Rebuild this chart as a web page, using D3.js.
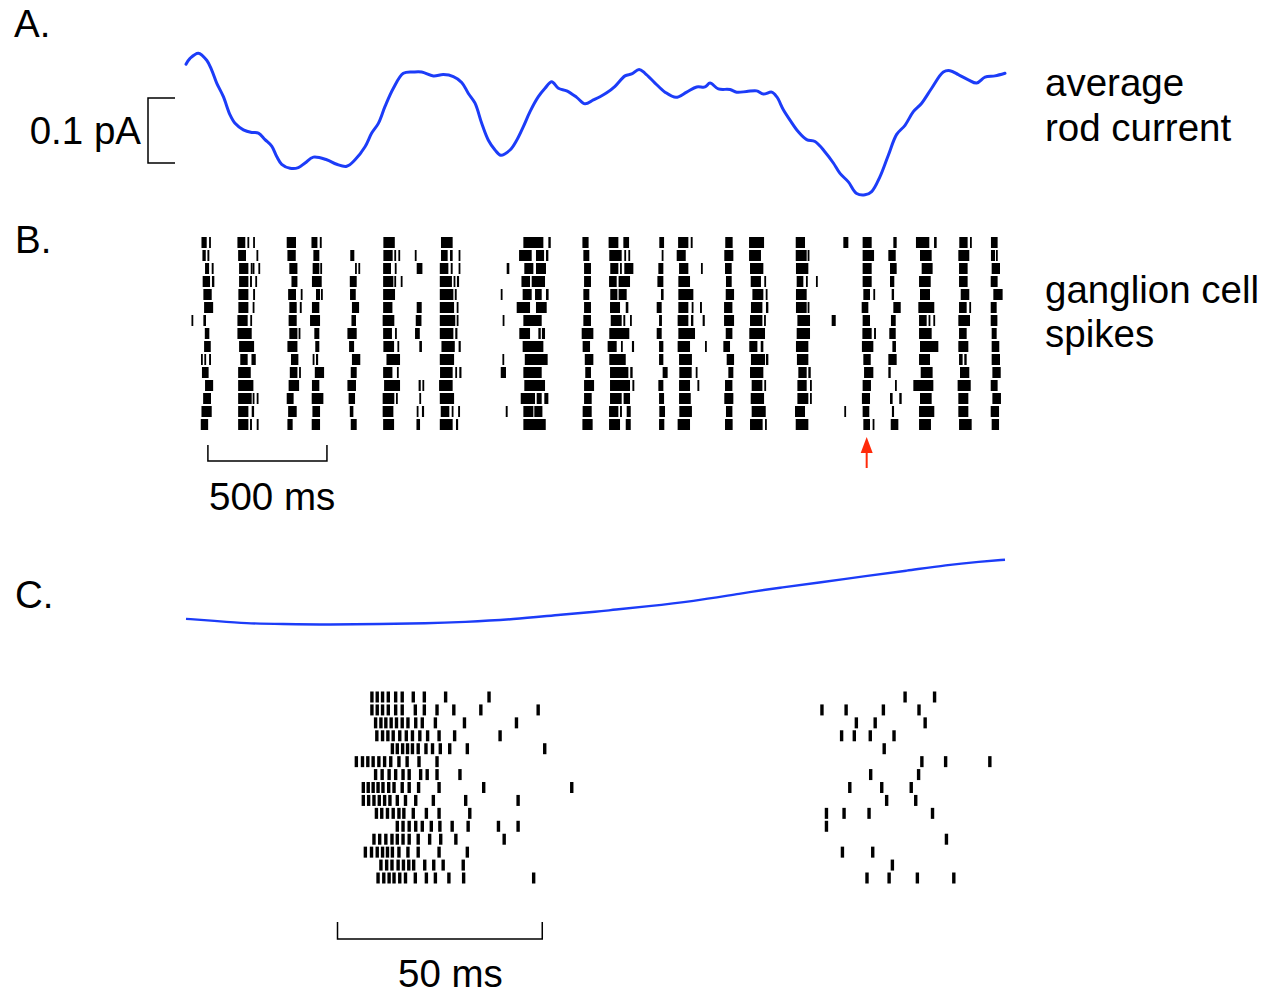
<!DOCTYPE html>
<html lang="en">
<head>
<meta charset="utf-8">
<title>Rod current and ganglion cell spikes</title>
<script src="https://d3js.org/d3.v7.min.js"></script>
<style>
  body { margin: 0; background: #fff; }
  svg text { font-family: "Liberation Sans", Arial, Helvetica, sans-serif; font-size: 38.5px; fill: #000; }
</style>
</head>
<body>
<div id="fig"></div>
<script>
// ---- panel A: average rod current (time in ms, current in pA) ----
const traceTimeA = [0, 17, 52, 87, 108, 129, 157, 185, 206, 241, 276, 304, 332, 360, 381, 402, 437, 472, 500, 535,
  591, 633, 675, 710, 752, 780, 808, 836, 871, 913, 955, 990, 1039, 1081, 1123, 1158, 1186, 1214, 1242, 1270,
  1298, 1322, 1361, 1389, 1417, 1445, 1480, 1508, 1536, 1564, 1599, 1641, 1676, 1711, 1739, 1767, 1802, 1844, 1872, 1903,
  1928, 1970, 2012, 2058, 2103, 2145, 2180, 2201, 2236, 2285, 2313, 2355, 2397, 2425, 2460, 2481, 2509, 2537, 2572, 2607,
  2642, 2684, 2719, 2747, 2782, 2817, 2852, 2880, 2915, 2950, 2985, 3020, 3055, 3090, 3132, 3181, 3209, 3244, 3286, 3321,
  3356, 3398, 3440];
const traceCurrentA = [0.152, 0.161, 0.169, 0.158, 0.143, 0.123, 0.102, 0.074, 0.061, 0.051, 0.047, 0.046, 0.036, 0.026, 0.010, -0.002, -0.008, -0.007, 0.000, 0.009,
  0.005, -0.002, -0.005, 0.005, 0.025, 0.046, 0.061, 0.087, 0.115, 0.138, 0.140, 0.140, 0.134, 0.136, 0.133, 0.124, 0.107, 0.092, 0.061, 0.035,
  0.020, 0.012, 0.020, 0.035, 0.056, 0.079, 0.102, 0.115, 0.125, 0.115, 0.111, 0.101, 0.091, 0.097, 0.102, 0.108, 0.118, 0.134, 0.137, 0.144,
  0.138, 0.123, 0.109, 0.101, 0.109, 0.117, 0.117, 0.123, 0.114, 0.113, 0.109, 0.110, 0.111, 0.106, 0.109, 0.102, 0.082, 0.066, 0.048, 0.036,
  0.033, 0.017, 0.000, -0.016, -0.029, -0.047, -0.049, -0.044, -0.021, 0.012, 0.044, 0.058, 0.079, 0.092, 0.115, 0.140, 0.142, 0.136, 0.128, 0.123,
  0.132, 0.134, 0.138];

// ---- panel B: spike raster, 15 trials, each entry [start ms, end ms] of a spike or spike cluster ----
const rasterB = [
  [[65,87],[97,102],[216,249],[258,262],[282,289],[423,462],[527,552],[562,570],[829,877],[1071,1120],[1417,1501],[1522,1532],[1665,1691],[1775,1816],[1837,1861],[1988,2008],[2067,2110],[2120,2128],[2265,2296],[2365,2428],[2561,2600],[2761,2782],[2842,2880],[2971,2985],[3066,3122],[3142,3153],[3248,3283],[3293,3300],[3381,3409]],
  [[69,83],[90,98],[219,252],[296,303],[426,461],[535,560],[690,707],[829,868],[875,882],[892,899],[961,968],[1071,1099],[1109,1120],[1145,1152],[1399,1452],[1470,1504],[1512,1522],[1669,1694],[1778,1830],[1841,1848],[1858,1865],[1998,2005],[2061,2099],[2261,2299],[2365,2415],[2561,2607],[2611,2615],[2842,2890],[2950,2981],[3083,3132],[3244,3290],[3381,3398],[3402,3409]],
  [[80,97],[108,116],[223,262],[272,277],[280,286],[304,311],[434,468],[532,560],[564,570],[710,717],[724,731],[828,861],[877,882],[969,993],[1066,1102],[1112,1120],[1145,1152],[1347,1358],[1421,1459],[1470,1512],[1672,1701],[1782,1816],[1823,1830],[1841,1879],[1984,2005],[2071,2110],[2163,2170],[2264,2292],[2369,2425],[2562,2614],[2842,2880],[2957,2985],[3090,3136],[3247,3283],[3384,3419]],
  [[70,101],[109,119],[223,262],[269,277],[291,297],[443,468],[529,570],[688,717],[828,871],[875,882],[902,909],[1066,1117],[1124,1131],[1138,1147],[1409,1445],[1452,1508],[1672,1701],[1777,1809],[1817,1865],[1980,2005],[2068,2117],[2268,2292],[2372,2415],[2429,2435],[2565,2593],[2604,2611],[2646,2653],[2842,2880],[2957,2975],[3079,3128],[3247,3283],[3380,3409]],
  [[73,108],[220,262],[282,290],[429,462],[482,489],[546,563],[567,571],[689,713],[828,878],[1066,1123],[1129,1137],[1322,1329],[1414,1452],[1466,1494],[1512,1523],[1669,1694],[1782,1812],[1817,1851],[1995,2006],[2068,2131],[2267,2302],[2379,2425],[2435,2442],[2562,2607],[2845,2873],[2887,2894],[2964,2974],[3083,3125],[3254,3290],[3391,3430]],
  [[76,114],[220,262],[280,286],[434,465],[478,486],[529,560],[697,727],[828,867],[969,990],[1066,1126],[1137,1144],[1389,1445],[1470,1515],[1672,1701],[1781,1823],[1847,1858],[1977,1998],[2068,2110],[2124,2131],[2159,2167],[2260,2295],[2373,2421],[2436,2446],[2562,2607],[2611,2615],[2838,2866],[2971,3002],[3076,3143],[3247,3279],[3290,3297],[3380,3405]],
  [[23,28],[73,84],[216,259],[270,276],[431,465],[521,563],[695,714],[826,875],[965,989],[1066,1131],[1137,1144],[1330,1336],[1417,1494],[1669,1701],[1784,1830],[1837,1845],[1865,1872],[1987,1999],[2065,2110],[2121,2131],[2170,2179],[2260,2302],[2369,2421],[2428,2435],[2568,2621],[2712,2729],[2842,2873],[2961,2981],[3079,3111],[3119,3125],[3139,3146],[3244,3293],[3380,3408]],
  [[79,98],[216,276],[434,468],[473,479],[539,560],[678,717],[828,865],[878,885],[962,982],[1066,1123],[1131,1140],[1400,1445],[1480,1490],[1495,1508],[1662,1711],[1778,1862],[1977,1998],[2068,2138],[2267,2295],[2366,2432],[2565,2621],[2841,2880],[2890,2898],[2954,2981],[3079,3132],[3247,3279],[3384,3405]],
  [[76,104],[223,286],[426,468],[543,560],[685,706],[829,874],[888,895],[980,991],[1073,1129],[1145,1154],[1414,1501],[1666,1697],[1771,1809],[1827,1834],[1873,1882],[1987,2005],[2065,2117],[2180,2187],[2257,2285],[2366,2400],[2414,2425],[2562,2614],[2839,2887],[2967,2982],[3083,3160],[3244,3286],[3384,3416]],
  [[63,70],[77,84],[97,105],[228,259],[275,293],[441,472],[532,539],[546,555],[697,732],[842,899],[1066,1126],[1329,1336],[1423,1519],[1675,1711],[1778,1847],[1987,2005],[2071,2125],[2271,2302],[2373,2432],[2436,2446],[2566,2614],[2845,2876],[2950,2985],[3079,3125],[3247,3262],[3269,3279],[3384,3419]],
  [[67,95],[219,272],[436,468],[475,482],[541,580],[692,717],[828,867],[886,893],[1067,1120],[1131,1137],[1148,1157],[1322,1344],[1417,1494],[1677,1701],[1781,1858],[1866,1876],[2002,2023],[2072,2124],[2141,2148],[2278,2299],[2369,2425],[2572,2607],[2614,2624],[2848,2887],[2950,2960],[3086,3136],[3251,3290],[3387,3422]],
  [[80,114],[219,283],[431,475],[529,560],[678,714],[832,899],[977,986],[993,1000],[1063,1120],[1421,1508],[1672,1714],[1781,1865],[1875,1883],[1984,2005],[2071,2117],[2148,2156],[2264,2295],[2376,2421],[2429,2436],[2568,2607],[2621,2628],[2842,2877],[2978,2985],[3055,3139],[3241,3296],[3380,3409]],
  [[72,105],[219,276],[280,286],[297,304],[423,452],[528,577],[683,710],[826,875],[882,889],[980,987],[1066,1126],[1406,1466],[1473,1494],[1505,1522],[1672,1704],[1781,1830],[1838,1865],[1987,2008],[2071,2120],[2261,2299],[2372,2428],[2568,2614],[2621,2628],[2839,2873],[2957,2968],[2996,3006],[3083,3132],[3244,3286],[3387,3423]],
  [[65,108],[219,262],[276,286],[429,465],[531,563],[688,703],[826,871],[969,976],[991,1000],[1070,1106],[1116,1123],[1143,1151],[1343,1351],[1417,1459],[1463,1497],[1666,1704],[1777,1816],[1823,1831],[1851,1868],[1988,2012],[2072,2125],[2268,2295],[2376,2435],[2558,2600],[2765,2772],[2842,2870],[2965,2974],[3079,3143],[3244,3286],[3380,3415]],
  [[62,93],[219,262],[269,277],[297,305],[426,448],[528,563],[692,717],[828,874],[968,983],[1066,1120],[1134,1143],[1417,1511],[1665,1708],[1777,1823],[1847,1868],[1987,2009],[2065,2117],[2264,2296],[2369,2422],[2432,2439],[2561,2614],[2845,2873],[2884,2890],[2960,2992],[3079,3129],[3247,3300],[3384,3415]]
];
const arrowTimeB = 2859;          // red arrow marks the event expanded in C
const scaleBarB = [92, 500];      // start, length (ms)

// ---- panel C: expanded 200 ms window ----
const traceTimeC = [0, 6.7, 14.8, 23.0, 35.2, 47.4, 58.8, 67.7, 79.9, 92.1, 100.7, 104.3, 112.5, 123.9, 135.3, 145.1, 154.8, 166.2, 176.0, 185.8, 193.9, 200];
const traceCurrentC = [-0.041, -0.044, -0.048, -0.049, -0.050, -0.049, -0.048, -0.046, -0.042, -0.034, -0.030, -0.027, -0.022, -0.014, -0.002, 0.007, 0.015, 0.025, 0.033, 0.042, 0.047, 0.050];
const rasterC = [
  [45.4, 46.7, 48.0, 49.4, 51.2, 52.8, 55.5, 58.2, 63.4, 74.0, 175.6, 182.8],
  [45.4, 46.7, 48.0, 49.4, 51.2, 52.8, 56.0, 58.2, 61.3, 65.4, 72.0, 86.0, 155.3, 161.2, 170.3, 179.0],
  [46.3, 47.6, 48.8, 50.1, 51.4, 52.8, 54.2, 56.1, 57.7, 60.9, 68.0, 80.7, 163.7, 168.3, 180.5],
  [46.6, 48.0, 49.3, 50.6, 52.2, 53.8, 55.3, 57.1, 59.0, 61.8, 65.6, 76.7, 160.1, 163.2, 167.1, 172.9],
  [50.4, 51.6, 52.9, 54.1, 55.3, 56.7, 58.6, 60.2, 62.1, 64.4, 68.7, 87.6, 170.5],
  [41.6, 43.1, 44.4, 45.7, 47.1, 48.5, 50.0, 52.0, 54.0, 56.9, 61.3, 179.7, 185.5, 196.3],
  [46.3, 47.9, 49.6, 51.2, 53.0, 54.5, 57.3, 58.9, 61.3, 66.9, 167.2, 178.9],
  [43.3, 44.5, 45.7, 46.9, 48.1, 49.5, 50.8, 52.8, 54.5, 56.8, 61.8, 72.7, 94.2, 162.1, 169.9, 177.1],
  [43.3, 44.6, 45.9, 47.2, 48.5, 49.8, 51.6, 53.6, 56.1, 60.4, 68.3, 81.1, 171.1, 178.2],
  [46.5, 47.8, 49.2, 50.6, 52.0, 53.2, 55.5, 58.7, 61.8, 69.3, 156.4, 160.7, 166.8, 182.3],
  [51.6, 53.0, 54.5, 56.1, 57.7, 59.9, 62.0, 65.0, 68.9, 76.3, 81.1, 156.4],
  [45.9, 47.3, 48.8, 50.3, 51.6, 53.0, 54.5, 56.7, 59.5, 62.2, 65.9, 77.7, 185.7],
  [43.8, 45.3, 46.7, 48.0, 49.2, 50.4, 52.0, 54.2, 56.7, 61.8, 68.7, 160.3, 167.7],
  [47.6, 49.0, 50.3, 51.8, 53.1, 54.4, 55.6, 58.3, 60.5, 62.8, 67.7, 172.5],
  [46.9, 48.3, 49.6, 50.8, 52.2, 53.6, 56.0, 58.7, 60.9, 64.2, 67.8, 84.9, 166.3, 171.7, 178.6, 187.5]
];
const scaleBarC = [37, 50];       // start, length (ms)
const currentBar = 0.1;           // pA

const width = 1266, height = 994;
const blue = "#1c3cf8";

const svg = d3.select("#fig").append("svg")
  .attr("width", width)
  .attr("height", height);

// scales
const xA = d3.scaleLinear().domain([0, 3440]).range([186, 1005]);
const yA = d3.scaleLinear().domain([0, 0.1]).range([163, 98]);
const yB = d3.scalePoint().domain(d3.range(rasterB.length)).range([242.5, 424.5]);
const xC = d3.scaleLinear().domain([0, 200]).range([186, 1005]);
const yCtrace = d3.scaleLinear().domain([-0.05, 0.05]).range([624.7, 559.7]);
const yC = d3.scalePoint().domain(d3.range(rasterC.length)).range([697, 878]);

// panel labels
svg.append("text").attr("x", 14).attr("y", 36.5).text("A.");
svg.append("text").attr("x", 15).attr("y", 253).text("B.");
svg.append("text").attr("x", 15).attr("y", 608).text("C.");

// ---- A ----
const lineA = d3.line()
  .x(d => xA(d[0]))
  .y(d => yA(d[1]))
  .curve(d3.curveCatmullRom);
svg.append("path")
  .datum(d3.zip(traceTimeA, traceCurrentA))
  .attr("d", lineA)
  .attr("fill", "none")
  .attr("stroke", blue)
  .attr("stroke-width", 3)
  .attr("stroke-linejoin", "round")
  .attr("stroke-linecap", "round");

// 0.1 pA bracket
const bx = 148, bw = 27;
svg.append("path")
  .attr("d", `M${bx + bw},${yA(0)}H${bx}V${yA(currentBar)}H${bx + bw}`)
  .attr("fill", "none")
  .attr("stroke", "#000")
  .attr("stroke-width", 1.5);
svg.append("text").attr("x", 141).attr("y", 144).attr("text-anchor", "end").text("0.1 pA");

svg.append("text").attr("x", 1045).attr("y", 96).text("average");
svg.append("text").attr("x", 1045).attr("y", 141).text("rod current");

// ---- B ----
const tickH = 11;
const gB = svg.append("g");
rasterB.forEach((trial, i) => {
  gB.selectAll(null)
    .data(trial)
    .enter()
    .append("rect")
    .attr("x", d => xA(d[0]))
    .attr("y", yB(i) - tickH / 2)
    .attr("width", d => Math.max(xA(d[1]) - xA(d[0]), 1.8))
    .attr("height", tickH)
    .attr("fill", "#000");
});

svg.append("text").attr("x", 1045).attr("y", 303).text("ganglion cell");
svg.append("text").attr("x", 1045).attr("y", 347).text("spikes");

// red arrow
const ax = xA(arrowTimeB);
svg.append("line")
  .attr("x1", ax).attr("x2", ax)
  .attr("y1", 450).attr("y2", 468)
  .attr("stroke", "#ff2a0a").attr("stroke-width", 2);
svg.append("path")
  .attr("d", `M${ax},437L${ax - 6},453L${ax + 6},453Z`)
  .attr("fill", "#ff2a0a");

// 500 ms bar
const sb0 = xA(scaleBarB[0]), sb1 = xA(scaleBarB[0] + scaleBarB[1]);
svg.append("path")
  .attr("d", `M${sb0},445V461H${sb1}V445`)
  .attr("fill", "none").attr("stroke", "#000").attr("stroke-width", 1.5);
svg.append("text").attr("x", 209).attr("y", 509.5).text("500 ms");

// ---- C ----
const lineC = d3.line()
  .x(d => xC(d[0]))
  .y(d => yCtrace(d[1]))
  .curve(d3.curveBasis);
svg.append("path")
  .datum(d3.zip(traceTimeC, traceCurrentC))
  .attr("d", lineC)
  .attr("fill", "none")
  .attr("stroke", blue)
  .attr("stroke-width", 2.4);

const gC = svg.append("g");
rasterC.forEach((trial, i) => {
  gC.selectAll(null)
    .data(trial)
    .enter()
    .append("rect")
    .attr("x", d => xC(d) - 1.7)
    .attr("y", yC(i) - 5.5)
    .attr("width", 3.4)
    .attr("height", 11)
    .attr("fill", "#000");
});

const cb0 = xC(scaleBarC[0]), cb1 = xC(scaleBarC[0] + scaleBarC[1]);
svg.append("path")
  .attr("d", `M${cb0},922V939H${cb1}V922`)
  .attr("fill", "none").attr("stroke", "#000").attr("stroke-width", 1.5);
svg.append("text").attr("x", 398).attr("y", 987).text("50 ms");
</script>
</body>
</html>
